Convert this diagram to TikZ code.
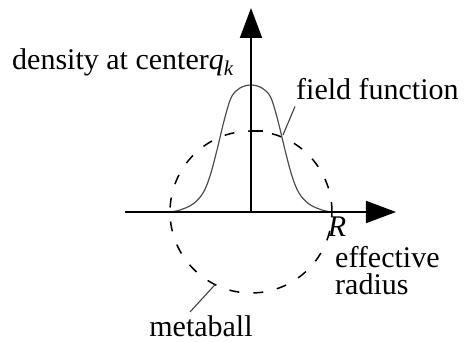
\documentclass[tikz,border=0pt]{standalone}
\usepackage{fontspec}
\setmainfont{Liberation Serif}[Ligatures=TeX]
\usetikzlibrary{arrows.meta,positioning}

\begin{document}
\begin{tikzpicture}[x=1pt,y=1pt,
  axis/.style={line width=2pt,-{Triangle[length=30pt,width=22pt]}},
  lbl/.style={font=\rmfamily\fontsize{30}{27}\selectfont,inner sep=0pt},
  leader/.style={line width=1.1pt,black!75}]
  \useasboundingbox (-251,-130) rectangle (213,212);
  \coordinate (O) at (0,0);
  \coordinate (xstart) at (-126,0);
  \coordinate (xend) at (145,0);
  \coordinate (ytop) at (0,204);
  % metaball and its field
  \draw[line width=1.5pt,dash pattern=on 10pt off 14pt] (O) circle (81);
  \draw[line width=1.2pt,black!70] plot[smooth,tension=0.6] coordinates {
    (-81,0) (-71,2) (-58,8) (-48,19) (-41,36) (-34,62) (-29,83) (-24,102)
    (-19,116) (-11,124) (0,127) (11,124) (19,116) (24,102) (29,83) (34,62)
    (41,36) (48,19) (58,8) (71,2) (81,0)};
  % axes
  \draw[axis] (xstart) -- (xend);
  \draw[axis] (O) -- (ytop);
  \draw[line width=1.5pt] (0,81) -- (12,81);
  % labels
  \node[lbl,anchor=base west] (dens) at (-239,142) {density at center\textit{q}\textsubscript{\textit{k}}};
  \node[lbl,anchor=base west] (ff) at (45,112) {field function};
  \node[lbl] (rad) at (86,-15) {\textit{R}};
  \node[lbl,anchor=west,align=left] (eff) at (84,-59) {effective\\radius};
  \node[lbl,anchor=base] (mb) at (-50,-125) {metaball};
  \coordinate (ffpt) at (32,77);
  \coordinate (mbpt) at (243.7:81);
  \draw[leader] ([xshift=-1pt,yshift=-6pt]ff.south west) -- (ffpt);
  \draw[leader] ([xshift=-11pt,yshift=4pt]mb.north) -- (mbpt);
\end{tikzpicture}
\end{document}
